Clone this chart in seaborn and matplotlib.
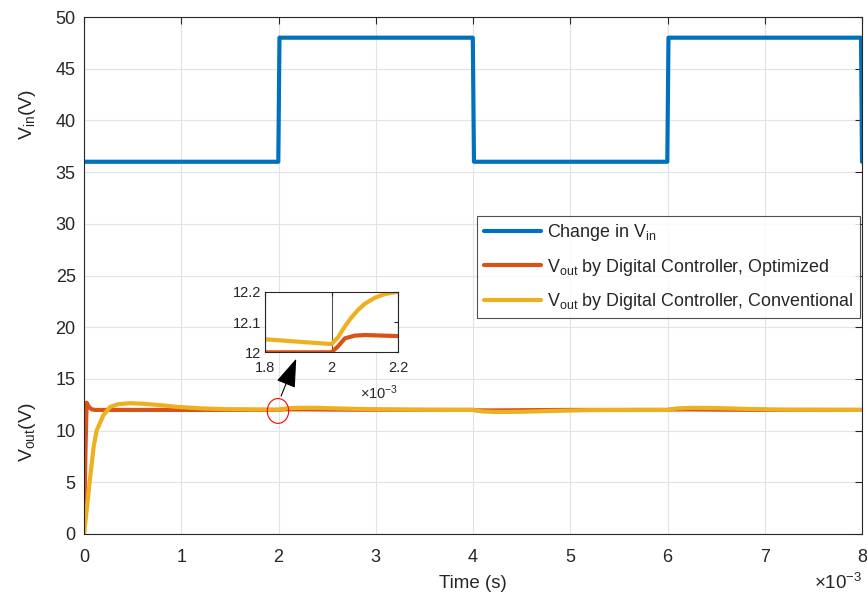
import matplotlib
matplotlib.use("Agg")
import matplotlib.pyplot as plt
from matplotlib.patches import Ellipse
from matplotlib.ticker import FuncFormatter
import seaborn as sns
import numpy as np
import pandas as pd

# input voltage step pattern (time in s)
t_vin = [0, 1.998e-3, 2.010e-3, 3.998e-3, 4.010e-3, 5.998e-3, 6.010e-3, 7.990e-3, 8.0e-3]
v_in = [36, 36, 48, 48, 36, 36, 48, 48, 36]

# output voltage, optimized digital controller
t_opt = [0, 0.015e-3, 0.027e-3, 0.05e-3, 0.08e-3, 0.12e-3, 2.0e-3, 2.02e-3, 2.04e-3,
         2.07e-3, 2.1e-3, 2.3e-3, 2.6e-3, 3.0e-3, 4.0e-3, 4.05e-3, 4.2e-3, 4.6e-3,
         5.0e-3, 6.0e-3, 6.05e-3, 6.2e-3, 6.6e-3, 7.0e-3, 8.0e-3]
v_opt = [0, 8.0, 12.7, 12.3, 12.05, 12.0, 12.0, 12.02, 12.046,
         12.055, 12.057, 12.05, 12.03, 12.01, 12.0, 11.96, 11.95, 11.98,
         12.0, 12.0, 12.04, 12.05, 12.02, 12.0, 12.0]

# output voltage, conventional digital controller
t_conv = [0, 0.03e-3, 0.06e-3, 0.1e-3, 0.13e-3, 0.2e-3, 0.27e-3, 0.35e-3, 0.47e-3,
          0.6e-3, 0.8e-3, 0.95e-3, 1.2e-3, 1.47e-3, 1.8e-3, 2.0e-3, 2.02e-3, 2.04e-3,
          2.06e-3, 2.08e-3, 2.1e-3, 2.13e-3, 2.16e-3, 2.2e-3, 2.4e-3, 2.7e-3, 3.0e-3,
          3.5e-3, 4.0e-3, 4.1e-3, 4.25e-3, 4.5e-3, 4.8e-3, 5.2e-3, 6.0e-3, 6.1e-3,
          6.25e-3, 6.5e-3, 6.8e-3, 7.2e-3, 8.0e-3]
v_conv = [0, 2.5, 5.2, 8.5, 10.0, 11.5, 12.3, 12.55, 12.65,
          12.6, 12.45, 12.3, 12.15, 12.07, 12.043, 12.027, 12.05, 12.085,
          12.115, 12.14, 12.16, 12.18, 12.192, 12.2, 12.2, 12.12, 12.06,
          12.01, 12.0, 11.85, 11.8, 11.82, 11.9, 11.98, 12.0, 12.15,
          12.2, 12.18, 12.1, 12.02, 12.0]

x_ticks = [0, 1, 2, 3, 4, 5, 6, 7, 8]
y_ticks = [0, 5, 10, 15, 20, 25, 30, 35, 40, 45, 50]

c_blue, c_orange, c_yellow = "#0072BD", "#D95319", "#EDB120"

sns.set_style("white")
plt.rcParams["font.family"] = ["Liberation Sans", "DejaVu Sans"]
plt.rcParams["mathtext.fontset"] = "custom"
plt.rcParams["mathtext.rm"] = "Liberation Sans"
plt.rcParams["mathtext.it"] = "Liberation Sans"

df_vin = pd.DataFrame({"t": t_vin, "v": v_in})
df_opt = pd.DataFrame({"t": t_opt, "v": v_opt})
df_conv = pd.DataFrame({"t": t_conv, "v": v_conv})

fig = plt.figure(figsize=(8.67, 5.96), dpi=100)
ax = fig.add_axes([84 / 867, 1 - 534 / 596, 778 / 867, 517 / 596])

sns.lineplot(data=df_vin, x="t", y="v", ax=ax, color=c_blue, lw=3, sort=False,
             label="Change in V$_{\\mathrm{in}}$")
sns.lineplot(data=df_opt, x="t", y="v", ax=ax, color=c_orange, lw=3, sort=False,
             label="V$_{\\mathrm{out}}$ by Digital Controller, Optimized")
sns.lineplot(data=df_conv, x="t", y="v", ax=ax, color=c_yellow, lw=3, sort=False,
             label="V$_{\\mathrm{out}}$ by Digital Controller, Conventional")

ax.set_xlim(0, 8e-3)
ax.set_ylim(0, 50)
ax.set_xticks([x * 1e-3 for x in x_ticks])
ax.set_yticks(y_ticks)
ax.xaxis.set_major_formatter(FuncFormatter(lambda v, p: f"{v * 1e3:g}"))
ax.tick_params(direction="in", top=True, right=True, labelsize=13, length=5,
               width=0.8, colors="#262626", pad=6)
ax.tick_params(axis="x", pad=11)
ax.grid(True, color="#e3e3e3", lw=0.8)
for s in ax.spines.values():
    s.set_color("#262626")
    s.set_linewidth(0.8)
ax.set_xlabel("Time (s)", fontsize=13.5, color="#262626", labelpad=6)
ax.set_ylabel("")
fig.text(28 / 867, 1 - 114 / 596, "V$_{\\mathrm{in}}$(V)", rotation=90, fontsize=14,
         ha="center", va="center", color="#262626")
fig.text(28 / 867, 1 - 432 / 596, "V$_{\\mathrm{out}}$(V)", rotation=90, fontsize=14,
         ha="center", va="center", color="#262626")
fig.text(862 / 867, 1 - 583 / 596, "$\\times$10$^{-3}$", fontsize=13.5, ha="right",
         va="center", color="#262626")

leg = ax.legend(loc="upper right", bbox_to_anchor=(0.997, 0.615), fontsize=12.9,
                frameon=True, fancybox=False, handlelength=3.2, handletextpad=0.35,
                borderpad=0.35, labelspacing=0.75, borderaxespad=0)
leg.get_frame().set_edgecolor("#262626")
leg.get_frame().set_linewidth(0.8)

# red circle around the zoomed region and arrow to the inset
ax.add_patch(Ellipse((1.995e-3, 11.9), 0.22e-3, 2.4, fill=False, ec="red", lw=0.8, zorder=5))
ax.annotate("", xy=(2.193e-3, 17.2), xytext=(2.016e-3, 13.1),
            arrowprops=dict(arrowstyle="-|>,head_length=1.0,head_width=0.35",
                            mutation_scale=18, color="black", lw=0.8))

# inset
axi = fig.add_axes([265 / 867, 1 - 352.3 / 596, 133 / 867, 60.6 / 596])
sns.lineplot(data=df_opt, x="t", y="v", ax=axi, color=c_orange, lw=3, sort=False, legend=False)
sns.lineplot(data=df_conv, x="t", y="v", ax=axi, color=c_yellow, lw=3, sort=False, legend=False)
axi.set_xlim(1.8e-3, 2.2e-3)
axi.set_ylim(12, 12.2)
axi.set_xticks([1.8e-3, 2.0e-3, 2.2e-3])
axi.set_yticks([12, 12.1, 12.2])
axi.xaxis.set_major_formatter(FuncFormatter(lambda v, p: f"{v * 1e3:g}"))
axi.yaxis.set_major_formatter(FuncFormatter(lambda v, p: f"{v:g}"))
axi.tick_params(direction="in", top=True, right=True, labelsize=10.5, length=3,
                width=0.8, colors="#262626", pad=3)
axi.tick_params(axis="x", pad=6)
axi.xaxis.grid(True, color="#555555", lw=0.8)
axi.set_xlabel("")
axi.set_ylabel("")
for s in axi.spines.values():
    s.set_color("#262626")
    s.set_linewidth(0.8)
fig.text(398 / 867, 1 - 393 / 596, "$\\times$10$^{-3}$", fontsize=10.5, ha="right",
         va="center", color="#262626")

fig.savefig("out.png", dpi=100)
